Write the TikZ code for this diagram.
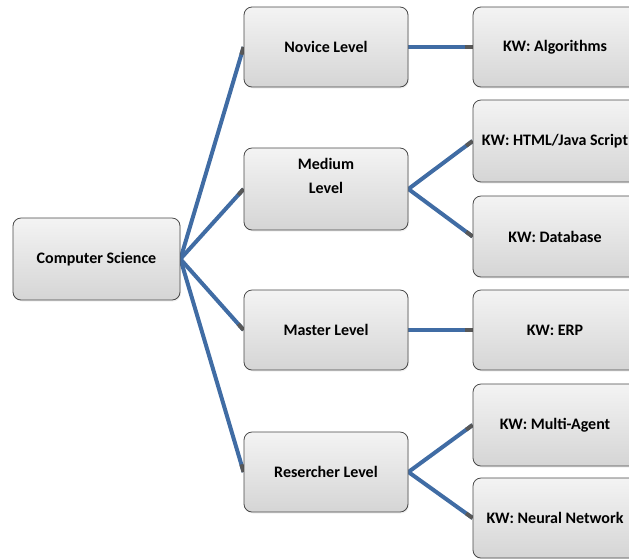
\documentclass[tikz,border=0pt]{standalone}
\usepackage{fontspec}
\setmainfont{Carlito}
\usetikzlibrary{calc,shadows,backgrounds}
\definecolor{lnblue}{RGB}{64,108,164}
\definecolor{stubgray}{RGB}{88,88,88}
\definecolor{bordergray}{RGB}{72,72,72}
\tikzset{
  box/.style={draw=bordergray, line width=0.8pt, rounded corners=8pt,
    top color=gray!9, bottom color=gray!33, minimum width=164pt,
    minimum height=80pt, inner sep=0pt,
    drop shadow={opacity=0.12, shadow xshift=1pt, shadow yshift=-1.5pt}},
  lbl/.style={font=\fontsize{16}{24}\selectfont\bfseries, align=center, inner sep=0pt},
  conn/.style={draw=lnblue, line width=4pt},
  stub/.style={draw=stubgray, line width=4pt},
}
\begin{document}
\begin{tikzpicture}[x=1pt,y=-1pt]
\useasboundingbox (0,0) rectangle (629,558);
% root
\node[box, lbl, minimum width=167pt, minimum height=82pt] (cs) at (96.5,259) {Computer Science};
% levels
\node[box, lbl] (nov) at (326,47) {Novice Level};
\node[box, minimum height=82pt] (med) at (326,189) {};
\node[lbl] (medt) at (326,176) {Medium\\Level};
\node[box, lbl] (mas) at (326,330) {Master Level};
\node[box, lbl] (res) at (326,472) {Resercher Level};
% keywords
\node[box, lbl] (alg) at (555,47) {KW: Algorithms};
\node[box, lbl, minimum height=82pt] (htm) at (555,141) {KW: HTML/Java Script};
\node[box, lbl, minimum height=81pt] (dbs) at (555,236.5) {KW: Database};
\node[box, lbl] (erp) at (555,330) {KW: ERP};
\node[box, lbl, minimum height=82pt] (mag) at (555,425) {KW: Multi-Agent};
\node[box, lbl] (nnw) at (555,518) {KW: Neural Network};
% connectors
\begin{scope}[on background layer]
  \foreach \a/\b in {cs/nov, cs/med, cs/mas, cs/res, nov/alg, med/htm, med/dbs, mas/erp, res/mag, res/nnw}{
    \draw[conn] (\a.east) -- (\b.west);
    \draw[stub] ($(\b.west)!8pt!(\a.east)$) -- (\b.west);
  }
\end{scope}
\end{tikzpicture}
\end{document}
